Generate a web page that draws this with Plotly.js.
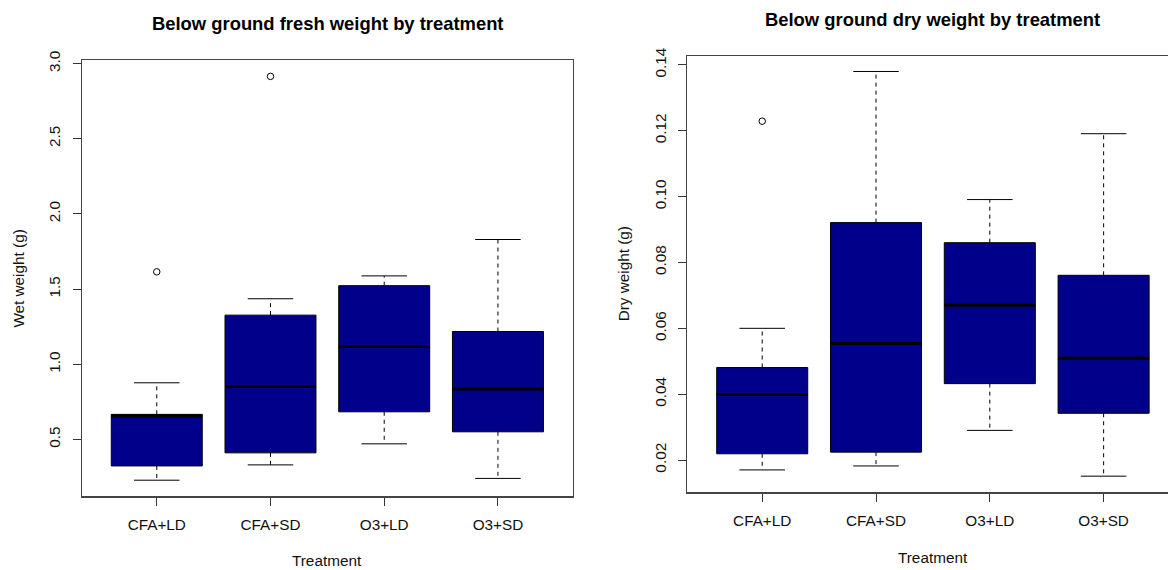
<!DOCTYPE html>
<html><head><meta charset="utf-8">
<script src="https://cdn.plot.ly/plotly-3.0.1.min.js"></script>
<style>html,body{margin:0;padding:0;background:#fff;}#chart{width:1168px;height:570px;}</style>
</head><body><div id="chart"></div>
<script>
const categories = ["CFA+LD", "CFA+SD", "O3+LD", "O3+SD"];

// Below ground fresh weight (g)
const freshLower  = [0.229, 0.331, 0.471, 0.241];
const freshQ1     = [0.324, 0.411, 0.684, 0.551];
const freshMedian = [0.655, 0.853, 1.119, 0.836];
const freshQ3     = [0.667, 1.327, 1.523, 1.218];
const freshUpper  = [0.877, 1.436, 1.588, 1.830];
const freshOutCat = ["CFA+LD", "CFA+SD"];
const freshOutVal = [1.615, 2.915];

// Below ground dry weight (g)
const dryLower  = [0.0170, 0.0182, 0.0290, 0.0151];
const dryQ1     = [0.0219, 0.0224, 0.0432, 0.0342];
const dryMedian = [0.0399, 0.0554, 0.0670, 0.0510];
const dryQ3     = [0.0481, 0.0921, 0.0860, 0.0761];
const dryUpper  = [0.0600, 0.1380, 0.0991, 0.1191];
const dryOutCat = ["CFA+LD"];
const dryOutVal = [0.1229];

const freshTickVals = [0.5, 1.0, 1.5, 2.0, 2.5, 3.0];
const freshTickText = ["0.5", "1.0", "1.5", "2.0", "2.5", "3.0"];
const dryTickVals = [0.02, 0.04, 0.06, 0.08, 0.10, 0.12, 0.14];
const dryTickText = ["0.02", "0.04", "0.06", "0.08", "0.10", "0.12", "0.14"];

const FONT = "Liberation Sans, Arial, Helvetica, sans-serif";
const BOX_W = 0.8, CAP_W = 0.4;

function boxTraces(lower, q1, med, q3, upper, outCat, outVal, xa, ya) {
  const pos = categories.map((c, i) => i + 1);
  const traces = [];
  traces.push({
    type: "bar", x: pos, base: q1, y: q3.map((v, i) => v - q1[i]),
    width: BOX_W, xaxis: xa, yaxis: ya,
    marker: {color: "#00008B", line: {color: "#000", width: 1}},
    hoverinfo: "skip"
  });
  const wx = [], wy = [], cx = [], cy = [], mx = [], my = [];
  pos.forEach((p, i) => {
    wx.push(p, p, null, p, p, null);
    wy.push(q3[i], upper[i], null, q1[i], lower[i], null);
    cx.push(p - CAP_W / 2, p + CAP_W / 2, null, p - CAP_W / 2, p + CAP_W / 2, null);
    cy.push(upper[i], upper[i], null, lower[i], lower[i], null);
    mx.push(p - BOX_W / 2, p + BOX_W / 2, null);
    my.push(med[i], med[i], null);
  });
  traces.push({type: "scatter", mode: "lines", x: wx, y: wy, xaxis: xa, yaxis: ya,
    line: {color: "#000", width: 1, dash: "4px,4px"}, hoverinfo: "skip"});
  traces.push({type: "scatter", mode: "lines", x: cx, y: cy, xaxis: xa, yaxis: ya,
    line: {color: "#000", width: 1}, hoverinfo: "skip"});
  traces.push({type: "scatter", mode: "lines", x: mx, y: my, xaxis: xa, yaxis: ya,
    line: {color: "#000", width: 3}, hoverinfo: "skip"});
  traces.push({type: "scatter", mode: "markers",
    x: outCat.map(c => categories.indexOf(c) + 1), y: outVal, xaxis: xa, yaxis: ya,
    marker: {symbol: "circle-open", size: 6.5, color: "#000", line: {width: 1, color: "#000"}}});
  return traces;
}

const data = [].concat(
  boxTraces(freshLower, freshQ1, freshMedian, freshQ3, freshUpper, freshOutCat, freshOutVal, "x", "y"),
  boxTraces(dryLower, dryQ1, dryMedian, dryQ3, dryUpper, dryOutCat, dryOutVal, "x2", "y2")
);

const W = 1168, H = 570;
const axisCommon = {
  showgrid: false, zeroline: false, showline: true, mirror: true,
  linecolor: "#444", linewidth: 1.2, ticks: "outside", ticklen: 8, tickcolor: "#333",
  tickwidth: 1, tickfont: {family: FONT, size: 15.3, color: "#111"}, fixedrange: true
};

const layout = {
  width: W, height: H, showlegend: false,
  paper_bgcolor: "#fff", plot_bgcolor: "#fff",
  margin: {l: 0, r: 0, t: 0, b: 0, pad: 0},
  bargap: 0,
  xaxis: Object.assign({}, axisCommon, {
    domain: [81.7 / W, 573 / W], range: [0.34, 4.66],
    tickvals: [1, 2, 3, 4], ticktext: categories, anchor: "y", ticklabelstandoff: 6
  }),
  yaxis: Object.assign({}, axisCommon, {
    domain: [1 - 496.3 / H, 1 - 60.3 / H], range: [0.122, 3.022],
    tickvals: freshTickVals, ticktext: freshTickText, tickangle: -90, anchor: "x",
    ticklabelstandoff: 6
  }),
  xaxis2: Object.assign({}, axisCommon, {
    domain: [687.1 / W, 1], range: [0.34, 0.34 + (1168 - 687.1) / 113.8],
    tickvals: [1, 2, 3, 4], ticktext: categories, anchor: "y2", ticklabelstandoff: 6
  }),
  yaxis2: Object.assign({}, axisCommon, {
    domain: [1 - 492.3 / H, 1 - 56 / H], range: [0.0102, 0.1427],
    tickvals: dryTickVals, ticktext: dryTickText, tickangle: -90, anchor: "x2",
    ticklabelstandoff: 6
  }),
  annotations: [
    {text: "<b>Below ground fresh weight by treatment</b>", xref: "paper", yref: "paper",
     x: 327.9 / W, y: 1 - 23 / H, xanchor: "center", yanchor: "middle", showarrow: false,
     font: {family: FONT, size: 18.4, color: "#000"}},
    {text: "<b>Below ground dry weight by treatment</b>", xref: "paper", yref: "paper",
     x: 932.6 / W, y: 1 - 19.5 / H, xanchor: "center", yanchor: "middle", showarrow: false,
     font: {family: FONT, size: 18.4, color: "#000"}},
    {text: "Treatment", xref: "paper", yref: "paper",
     x: 327.4 / W, y: 1 - 560 / H, xanchor: "center", yanchor: "middle", showarrow: false,
     font: {family: FONT, size: 15.3, color: "#111"}},
    {text: "Treatment", xref: "paper", yref: "paper",
     x: 933 / W, y: 1 - 557 / H, xanchor: "center", yanchor: "middle", showarrow: false,
     font: {family: FONT, size: 15.3, color: "#111"}},
    {text: "Wet weight (g)", xref: "paper", yref: "paper", textangle: -90,
     x: 18.3 / W, y: 1 - 278.3 / H, xanchor: "center", yanchor: "middle", showarrow: false,
     font: {family: FONT, size: 15.3, color: "#111"}},
    {text: "Dry weight (g)", xref: "paper", yref: "paper", textangle: -90,
     x: 623.1 / W, y: 1 - 274.2 / H, xanchor: "center", yanchor: "middle", showarrow: false,
     font: {family: FONT, size: 15.3, color: "#111"}}
  ]
};

Plotly.newPlot("chart", data, layout, {displayModeBar: false, staticPlot: true});
</script>
</body></html>
